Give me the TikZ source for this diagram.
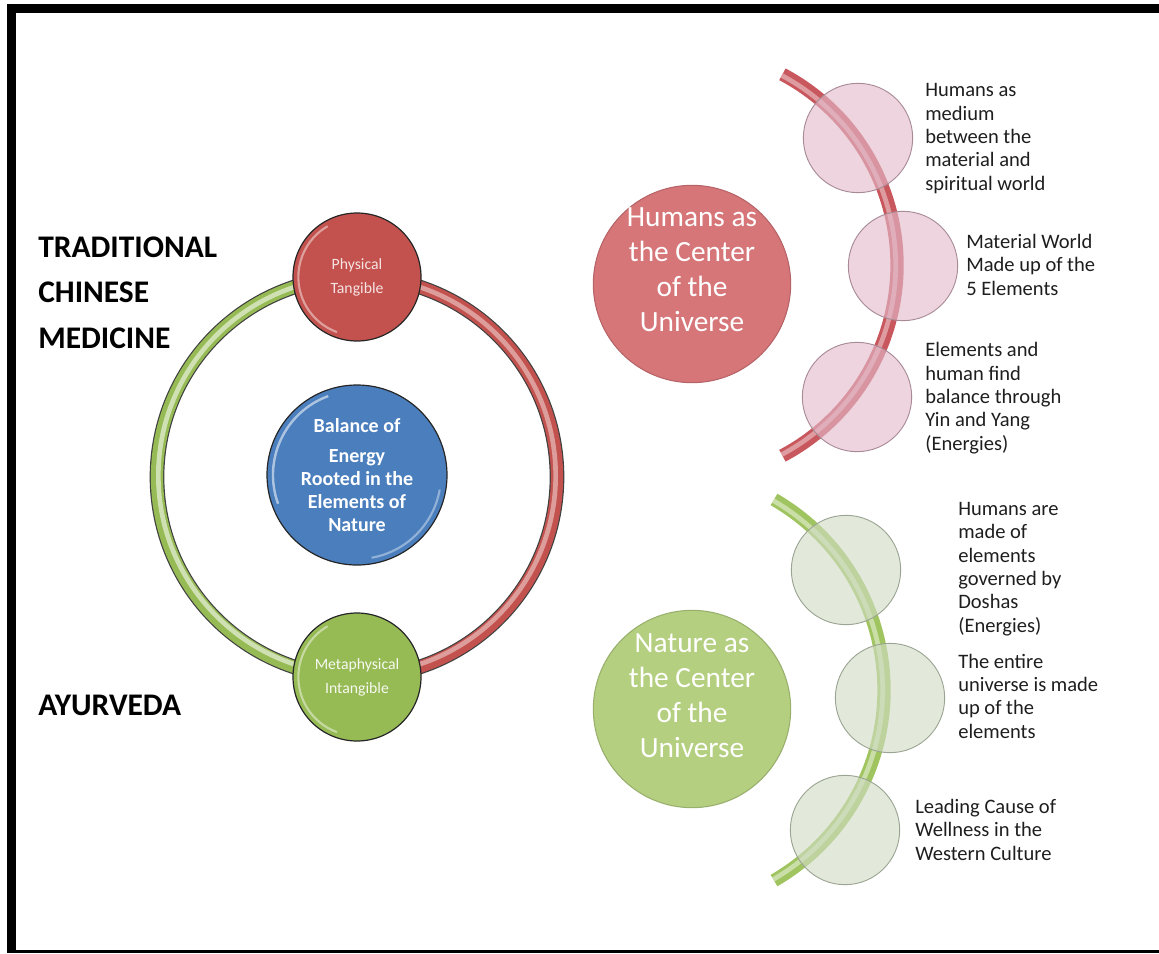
\documentclass[tikz,border=0pt]{standalone}
\usepackage{fontspec}
\setmainfont{Carlito}
\definecolor{tcmred}{RGB}{195,82,78}
\definecolor{tcmgreen}{RGB}{150,186,84}
\definecolor{tcmblue}{RGB}{74,126,189}
\definecolor{bigred}{RGB}{214,118,121}
\definecolor{biggreen}{RGB}{180,207,128}
\definecolor{palered}{RGB}{226,186,202}
\definecolor{palegreen}{RGB}{208,220,196}
\definecolor{arcred}{RGB}{200,88,94}
\definecolor{arcgreen}{RGB}{160,196,96}
\definecolor{softwhite}{RGB}{246,228,228}
\definecolor{txt}{RGB}{30,30,30}
\begin{document}
\begin{tikzpicture}[x=0.75pt,y=-0.75pt,
  ball/.style={circle, draw=black!85, line width=0.9pt, inner sep=0pt, align=center},
  bigball/.style={circle, inner sep=0pt, minimum size=148pt, line width=0.8pt},
  palec/.style={circle, inner sep=0pt, minimum size=82pt, line width=0.7pt, fill opacity=0.62},
  bodytxt/.style={anchor=base west, align=left, inner sep=0pt, text=txt, font=\fontsize{15.4}{17.5}\selectfont},
  bigtxt/.style={anchor=base, align=center, inner sep=0pt, text=white, font=\fontsize{22}{26.2}\selectfont},
  headtxt/.style={anchor=base west, align=left, inner sep=0pt, text=black, font=\fontsize{23.6}{34}\selectfont\bfseries}
]
\useasboundingbox (0,0) rectangle (1159,953);
% frame
\fill[black] (7,4) rectangle (1159,12.5);
\fill[black] (7,4) rectangle (15.5,952.5);
\fill[black] (7,949.5) rectangle (1159,952.5);

% headings (base anchor = last line baseline)
\node[headtxt] (tcm) at (38,348) {TRADITIONAL\\CHINESE\\MEDICINE};
\node[headtxt] (ayu) at (38,715) {AYURVEDA};

% ring
\coordinate (ringc) at (357,477);
\coordinate (ptop) at (357,277);
\coordinate (pbot) at (357,677);
% green left half of ring
\draw[line width=11pt, black!75] (ptop) arc[start angle=90, end angle=270, radius=150pt];
\draw[line width=9.2pt, tcmgreen] (ptop) arc[start angle=90, end angle=270, radius=150pt];
\draw[line width=3.5pt, tcmgreen!35!white, opacity=0.85] (ptop) arc[start angle=90, end angle=270, radius=149pt];
% red right half of ring
\draw[line width=11pt, black!75] (ptop) arc[start angle=90, end angle=-90, radius=150pt];
\draw[line width=9.2pt, tcmred] (ptop) arc[start angle=90, end angle=-90, radius=150pt];
\draw[line width=3.5pt, tcmred!45!white, opacity=0.8] (ptop) arc[start angle=90, end angle=-90, radius=149pt];

\node[ball, fill=tcmred, minimum size=96pt, text=softwhite, font=\fontsize{11.8}{18}\selectfont] (phys) at (ptop) {Physical\\Tangible};
\node[ball, fill=tcmgreen, minimum size=96pt, text=white!92!tcmgreen, font=\fontsize{11.8}{18}\selectfont] (meta) at (pbot) {Metaphysical\\Intangible};
\node[ball, fill=tcmblue, minimum size=135pt, text=white, font=\fontsize{15}{17.25}\selectfont\bfseries] (bal) at (357,475) {Balance of\\[5pt]Energy\\Rooted in the\\Elements of\\Nature};
% glossy highlights
\draw[white, opacity=0.45, line width=1.6pt] (phys.center) ++(120:44pt) arc[start angle=120, end angle=250, radius=44pt];
\draw[white, opacity=0.45, line width=1.6pt] (meta.center) ++(120:44pt) arc[start angle=120, end angle=250, radius=44pt];
\draw[white, opacity=0.55, line width=1.8pt] (bal.center) ++(110:63pt) arc[start angle=110, end angle=200, radius=63pt];
\draw[white, opacity=0.4, line width=1.6pt] (bal.center) ++(-10:63pt) arc[start angle=-10, end angle=-80, radius=63pt];

% ---------- Top right: Humans as the center ----------
\node[bigball, fill=bigred, draw=bigred!85!black] (hum) at (692,284) {};
\node[bigtxt] (humt) at (692,331) {Humans as\\the Center\\of the\\Universe};
\coordinate (rarc) at (681,265);
\draw[line width=10pt, arcred] (rarc) ++(62:162pt) arc[start angle=62, end angle=-62, radius=162pt];
\draw[line width=3.5pt, arcred!45!white, opacity=0.75] (rarc) ++(62:161pt) arc[start angle=62, end angle=-62, radius=161pt];
\node[palec, fill=palered, draw=palered!75!black] (r1) at (858,138) {};
\node[palec, fill=palered, draw=palered!75!black] (r2) at (903,266) {};
\node[palec, fill=palered, draw=palered!75!black] (r3) at (857,397) {};
\node[bodytxt] (rt1) at (925,190) {Humans as\\medium\\between the\\material and\\spiritual world};
\node[bodytxt] (rt2) at (966,295) {Material World\\Made up of the\\5 Elements};
\node[bodytxt] (rt3) at (925,450) {Elements and\\human find\\balance through\\Yin and Yang\\(Energies)};

% ---------- Bottom right: Nature as the center ----------
\node[bigball, fill=biggreen, draw=biggreen!85!black] (nat) at (692,709) {};
\node[bigtxt] (natt) at (692,757) {Nature as\\the Center\\of the\\Universe};
\coordinate (garc) at (664,690);
\draw[line width=10pt, arcgreen] (garc) ++(60:165pt) arc[start angle=60, end angle=-60, radius=165pt];
\draw[line width=3.5pt, arcgreen!40!white, opacity=0.75] (garc) ++(60:164pt) arc[start angle=60, end angle=-60, radius=164pt];
\node[palec, fill=palegreen, draw=palegreen!75!black] (g1) at (846,570) {};
\node[palec, fill=palegreen, draw=palegreen!75!black] (g2) at (890,698) {};
\node[palec, fill=palegreen, draw=palegreen!75!black] (g3) at (845,830) {};
\node[bodytxt] (gt1) at (958,632) {Humans are\\made of\\elements\\governed by\\Doshas\\(Energies)};
\node[bodytxt] (gt2) at (958,738) {The entire\\universe is made\\up of the\\elements};
\node[bodytxt] (gt3) at (915,860) {Leading Cause of\\Wellness in the\\Western Culture};
\end{tikzpicture}
\end{document}
